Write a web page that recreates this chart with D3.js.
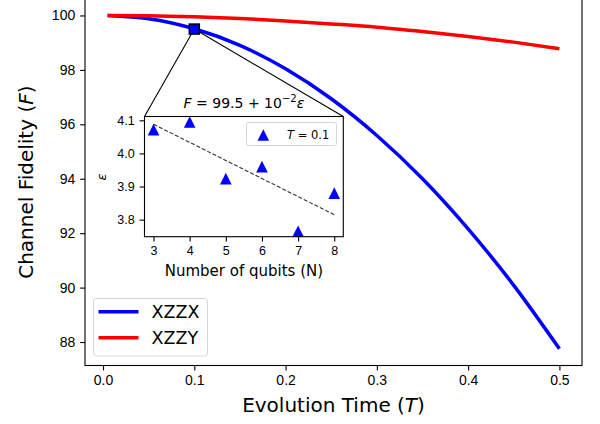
<!DOCTYPE html>
<html>
<head>
<meta charset="utf-8">
<script src="https://cdn.jsdelivr.net/npm/d3@7"></script>
<style>
  body { margin: 0; background: #fff; }
  svg { font-family: "DejaVu Sans", sans-serif; }
  .axis path, .axis line { stroke: #000; stroke-width: 1.1; }
  .axis text { fill: #000; }
</style>
</head>
<body>
<div id="chart"></div>
<script>
// chart size
var width = 600;
var height = 424;

// main curves
var times = [0.005, 0.05, 0.1, 0.15, 0.2, 0.25, 0.3, 0.35, 0.4, 0.45, 0.5];
var xzzx = [100.0, 99.88, 99.51, 98.90, 98.04, 96.94, 95.59, 94.00, 92.16, 90.08, 87.75];
var xzzy = [100.0, 99.99, 99.95, 99.89, 99.80, 99.69, 99.57, 99.41, 99.23, 99.02, 98.78];
var zoomPoint = [0.1, 99.5];

// inset data
var qubits = [3, 4, 5, 6, 7, 8];
var epsilon = [4.072, 4.095, 3.924, 3.960, 3.765, 3.880];
var fitX = [3, 8];
var fitY = [4.088, 3.815];

// tick labels
var xTicks = [0.0, 0.1, 0.2, 0.3, 0.4, 0.5];
var yTicks = [88, 90, 92, 94, 96, 98, 100];
var insetXTicks = [3, 4, 5, 6, 7, 8];
var insetYTicks = [3.8, 3.9, 4.0, 4.1];

var svg = d3.select("#chart")
  .append("svg")
  .attr("width", width)
  .attr("height", height);

// main scales
var x = d3.scaleLinear().domain([-0.01975, 0.52475]).range([85, 582]);
var y = d3.scaleLinear().domain([87.1375, 100.6125]).range([365.5, -1.2]);

var tickLen = 4.9;

// lines
var line = d3.line()
  .x(function(d) { return x(d[0]); })
  .y(function(d) { return y(d[1]); })
  .curve(d3.curveMonotoneX);

svg.append("path")
  .datum(times.map(function(t, i) { return [t, xzzx[i]]; }))
  .attr("d", line)
  .attr("fill", "none")
  .attr("stroke", "#0000ff")
  .attr("stroke-width", 3.5);

svg.append("path")
  .datum(times.map(function(t, i) { return [t, xzzy[i]]; }))
  .attr("d", line)
  .attr("fill", "none")
  .attr("stroke", "#ff0000")
  .attr("stroke-width", 3.5);

// axes frame
svg.append("rect")
  .attr("x", x.range()[0]).attr("y", y.range()[1])
  .attr("width", x.range()[1] - x.range()[0])
  .attr("height", y.range()[0] - y.range()[1])
  .attr("fill", "none").attr("stroke", "#000").attr("stroke-width", 1.1);

svg.append("g")
  .attr("class", "axis")
  .attr("transform", "translate(0," + y.range()[0] + ")")
  .call(d3.axisBottom(x).tickValues(xTicks).tickFormat(d3.format(".1f"))
    .tickSize(tickLen).tickPadding(4.9).tickSizeOuter(0))
  .call(function(g) { g.select(".domain").remove(); })
  .selectAll("text").attr("font-size", 14);

svg.append("g")
  .attr("class", "axis")
  .attr("transform", "translate(" + x.range()[0] + ",0)")
  .call(d3.axisLeft(y).tickValues(yTicks).tickFormat(d3.format("d"))
    .tickSize(tickLen).tickPadding(4.9).tickSizeOuter(0))
  .call(function(g) { g.select(".domain").remove(); })
  .selectAll("text").attr("font-size", 14);

// axis labels
var xl = svg.append("text")
  .attr("x", (x.range()[0] + x.range()[1]) / 2)
  .attr("y", 411.5)
  .attr("text-anchor", "middle")
  .attr("font-size", 20);
xl.append("tspan").text("Evolution Time (");
xl.append("tspan").attr("font-style", "italic").text("T");
xl.append("tspan").text(")");

var yl = svg.append("text")
  .attr("transform", "translate(33," + ((y.range()[0] + y.range()[1]) / 2) + ") rotate(-90)")
  .attr("text-anchor", "middle")
  .attr("font-size", 20);
yl.append("tspan").text("Channel Fidelity (");
yl.append("tspan").attr("font-style", "italic").text("F");
yl.append("tspan").text(")");

// main legend
svg.append("rect")
  .attr("x", 93.5).attr("y", 298.5).attr("width", 114).attr("height", 57.5)
  .attr("rx", 3).attr("fill", "#fff").attr("stroke", "#d6d6d6").attr("stroke-width", 1);

var legend = svg.append("g")
  .selectAll("g")
  .data([
    {'color': '#0000ff', 'label': 'XZZX'},
    {'color': '#ff0000', 'label': 'XZZY'}
  ])
  .enter()
  .append("g")
  .attr("transform", function(d, i) { return "translate(0," + (311.7 + i * 26) + ")"; });

legend.append("line")
  .attr("x1", 98.5).attr("x2", 138.5)
  .attr("stroke", function(d) { return d.color; })
  .attr("stroke-width", 3.5);

legend.append("text")
  .attr("x", 151.5)
  .attr("y", 6.4)
  .attr("font-size", 17.5)
  .text(function(d) { return d.label; });

// inset scales
var ix = d3.scaleLinear().domain([2.75, 8.25]).range([144.5, 343.3]);
var iy = d3.scaleLinear().domain([3.7485, 4.1115]).range([236.7, 116.5]);

// connector lines from zoom marker to inset corners
var zx = x(zoomPoint[0]), zy = y(zoomPoint[1]);
[[ix.range()[0], iy.range()[1]], [ix.range()[1], iy.range()[1]]].forEach(function(c) {
  svg.append("line")
    .attr("x1", zx).attr("y1", zy).attr("x2", c[0]).attr("y2", c[1])
    .attr("stroke", "#000").attr("stroke-width", 1.1);
});

svg.append("rect")
  .attr("x", zx - 5).attr("y", zy - 5).attr("width", 10).attr("height", 10)
  .attr("fill", "#0000ff").attr("stroke", "#000").attr("stroke-width", 1.5);

// inset background and frame
var inset = svg.append("g");
inset.append("rect")
  .attr("x", ix.range()[0]).attr("y", iy.range()[1])
  .attr("width", ix.range()[1] - ix.range()[0])
  .attr("height", iy.range()[0] - iy.range()[1])
  .attr("fill", "#fff");

// dashed fit
inset.append("line")
  .attr("x1", ix(fitX[0])).attr("y1", iy(fitY[0]))
  .attr("x2", ix(fitX[1])).attr("y2", iy(fitY[1]))
  .attr("stroke", "#333").attr("stroke-width", 1.1)
  .attr("stroke-dasharray", "4,2");

// triangle markers
var triPath = "M0,-5.8L5.8,5.8L-5.8,5.8Z";

inset.selectAll(".tri")
  .data(qubits)
  .enter()
  .append("path")
  .attr("class", "tri")
  .attr("d", triPath)
  .attr("transform", function(d, i) { return "translate(" + ix(d) + "," + iy(epsilon[i]) + ")"; })
  .attr("fill", "#0000ff");

inset.append("rect")
  .attr("x", ix.range()[0]).attr("y", iy.range()[1])
  .attr("width", ix.range()[1] - ix.range()[0])
  .attr("height", iy.range()[0] - iy.range()[1])
  .attr("fill", "none").attr("stroke", "#000").attr("stroke-width", 1.1);

inset.append("g")
  .attr("class", "axis")
  .attr("transform", "translate(0," + iy.range()[0] + ")")
  .call(d3.axisBottom(ix).tickValues(insetXTicks).tickFormat(d3.format("d"))
    .tickSize(tickLen).tickPadding(4.5).tickSizeOuter(0))
  .call(function(g) { g.select(".domain").remove(); })
  .selectAll("text").attr("font-size", 12.5);

inset.append("g")
  .attr("class", "axis")
  .attr("transform", "translate(" + ix.range()[0] + ",0)")
  .call(d3.axisLeft(iy).tickValues(insetYTicks).tickFormat(d3.format(".1f"))
    .tickSize(tickLen).tickPadding(4.9).tickSizeOuter(0))
  .call(function(g) { g.select(".domain").remove(); })
  .selectAll("text").attr("font-size", 12.5);

// inset labels
inset.append("text")
  .attr("x", (ix.range()[0] + ix.range()[1]) / 2)
  .attr("y", 275.5)
  .attr("text-anchor", "middle")
  .attr("font-size", 15)
  .text("Number of qubits (N)");

inset.append("text")
  .attr("transform", "translate(106,177) rotate(-90)")
  .attr("text-anchor", "middle")
  .attr("font-size", 13)
  .attr("font-style", "italic")
  .text("ε");

var title = inset.append("text")
  .attr("x", (ix.range()[0] + ix.range()[1]) / 2)
  .attr("y", 107.5)
  .attr("text-anchor", "middle")
  .attr("font-size", 14);
title.append("tspan").attr("font-style", "italic").text("F");
title.append("tspan").text(" = 99.5 + 10");
title.append("tspan").attr("font-size", 10).attr("dy", -5.5).text("−2");
title.append("tspan").attr("font-style", "italic").attr("dy", 5.5).text("ε");

// inset legend
inset.append("rect")
  .attr("x", 246.5).attr("y", 122.5).attr("width", 90).attr("height", 23)
  .attr("rx", 2).attr("fill", "#fff").attr("stroke", "#d6d6d6").attr("stroke-width", 1);

inset.append("path")
  .attr("d", triPath)
  .attr("transform", "translate(263.3,135)")
  .attr("fill", "#0000ff");

var lt = inset.append("text")
  .attr("x", 287)
  .attr("y", 139)
  .attr("font-size", 11.5);
lt.append("tspan").attr("font-style", "italic").text("T");
lt.append("tspan").text(" = 0.1");
</script>
</body>
</html>
